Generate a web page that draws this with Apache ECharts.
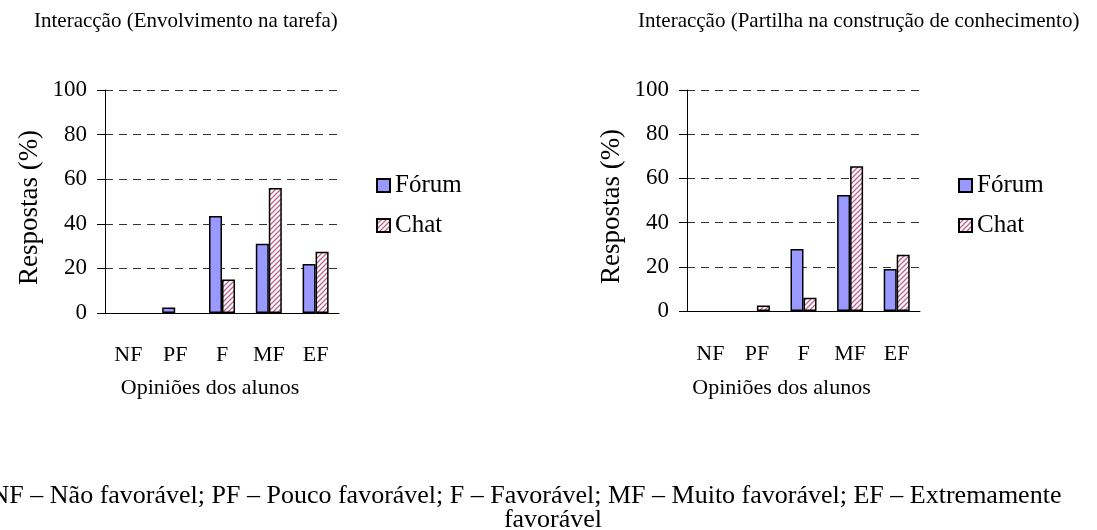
<!DOCTYPE html>
<html>
<head>
<meta charset="utf-8">
<title>Interacção</title>
<script src="https://cdn.jsdelivr.net/npm/echarts@6/dist/echarts.min.js"></script>
<style>
  html, body { margin: 0; padding: 0; background: #fff; }
  #chart { width: 1097px; height: 530px; }
</style>
</head>
<body>
<div id="chart"></div>
<script>
var categories = ["NF", "PF", "F", "MF", "EF"];
var yTicks = { min: 0, max: 100, interval: 20 };

// Interacção (Envolvimento na tarefa)
var tarefaForum = [0, 2.5, 43.5, 31, 22];
var tarefaChat = [0, 0, 15, 56, 27.5];

// Interacção (Partilha na construção de conhecimento)
var partilhaForum = [0, 0, 28, 52.5, 19];
var partilhaChat = [0, 2.5, 6, 65.5, 25.5];

var titles = [
  "Interacção (Envolvimento na tarefa)",
  "Interacção (Partilha na construção de conhecimento)"
];
var footnote = [
  "NF – Não favorável; PF – Pouco favorável; F – Favorável; MF – Muito favorável; EF – Extremamente",
  "favorável"
];

var font = "'Liberation Serif', 'Times New Roman', serif";

function hatch() {
  var c = document.createElement("canvas");
  c.width = 5;
  c.height = 5;
  var ctx = c.getContext("2d");
  ctx.fillStyle = "#fff";
  ctx.fillRect(0, 0, 5, 5);
  ctx.strokeStyle = "#C0608F";
  ctx.lineWidth = 1.3;
  ctx.beginPath();
  ctx.moveTo(0, 5); ctx.lineTo(5, 0);
  ctx.moveTo(-2.5, 2.5); ctx.lineTo(2.5, -2.5);
  ctx.moveTo(2.5, 7.5); ctx.lineTo(7.5, 2.5);
  ctx.stroke();
  return c;
}

var chatFill = { image: hatch(), repeat: "repeat" };

function xAxis(idx, labelMargin, nameGap, shift) {
  return {
    type: "category",
    gridIndex: idx,
    data: categories,
    name: "Opiniões dos alunos",
    nameLocation: "middle",
    nameGap: nameGap,
    nameTextStyle: { color: "#000", fontFamily: font, fontSize: 22, padding: [0, shift, 0, 0] },
    axisLine: { lineStyle: { color: "#000", width: 1 } },
    axisTick: { length: 8, lineStyle: { color: "#000" } },
    axisLabel: { color: "#000", fontFamily: font, fontSize: 22, margin: labelMargin }
  };
}

function yAxis(idx) {
  return {
    type: "value",
    gridIndex: idx,
    min: yTicks.min,
    max: yTicks.max,
    interval: yTicks.interval,
    name: "Respostas (%)",
    nameLocation: "middle",
    nameGap: 62,
    nameTextStyle: { color: "#000", fontFamily: font, fontSize: 27, padding: [0, 12, 0, 0] },
    axisLine: { show: true, lineStyle: { color: "#000", width: 1 } },
    axisTick: { show: true, length: 8, lineStyle: { color: "#000" } },
    axisLabel: { color: "#000", fontFamily: font, fontSize: 23, margin: 18 },
    splitLine: { lineStyle: { color: "#333", type: [8, 6], width: 1 } }
  };
}

function bars(name, data, idx) {
  var isChat = name === "Chat";
  return {
    name: name,
    type: "bar",
    xAxisIndex: idx,
    yAxisIndex: idx,
    // zero answers: no bar drawn, as in the original
    data: data.map(function (v) { return v === 0 ? null : v; }),
    barWidth: 13,
    barGap: "0%",
    itemStyle: {
      color: isChat ? chatFill : "#9999FF",
      borderColor: "#000",
      borderWidth: 1.5
    },
    emphasis: { disabled: true }
  };
}

function legend(left) {
  return {
    orient: "vertical",
    left: left,
    top: 168,
    itemWidth: 13,
    itemHeight: 13,
    itemGap: 15,
    icon: "rect",
    data: ["Fórum", "Chat"],
    textStyle: { color: "#000", fontFamily: font, fontSize: 25 }
  };
}

var textStyle = { color: "#000", fontFamily: font, fontWeight: "normal" };

var chart = echarts.init(document.getElementById("chart"));
chart.setOption({
  backgroundColor: "#fff",
  animation: false,
  title: [
    { text: titles[0], left: 34, top: 11, padding: 0, textStyle: Object.assign({ fontSize: 21 }, textStyle) },
    { text: titles[1], left: 638, top: 11, padding: 0, textStyle: Object.assign({ fontSize: 21 }, textStyle) },
    { text: footnote[0], left: 521, top: 478, textAlign: "center", textStyle: Object.assign({ fontSize: 26 }, textStyle) },
    { text: footnote[1], left: 548, top: 502, textAlign: "center", textStyle: Object.assign({ fontSize: 26 }, textStyle) }
  ],
  legend: [legend(371), legend(953)],
  grid: [
    { left: 105, top: 90, width: 234, height: 223 },
    { left: 687, top: 90, width: 233, height: 221 }
  ],
  xAxis: [xAxis(0, 31, 64, 24), xAxis(1, 32, 66, 44)],
  yAxis: [yAxis(0), yAxis(1)],
  series: [
    bars("Fórum", tarefaForum, 0),
    bars("Chat", tarefaChat, 0),
    bars("Fórum", partilhaForum, 1),
    bars("Chat", partilhaChat, 1)
  ]
});
</script>
</body>
</html>
